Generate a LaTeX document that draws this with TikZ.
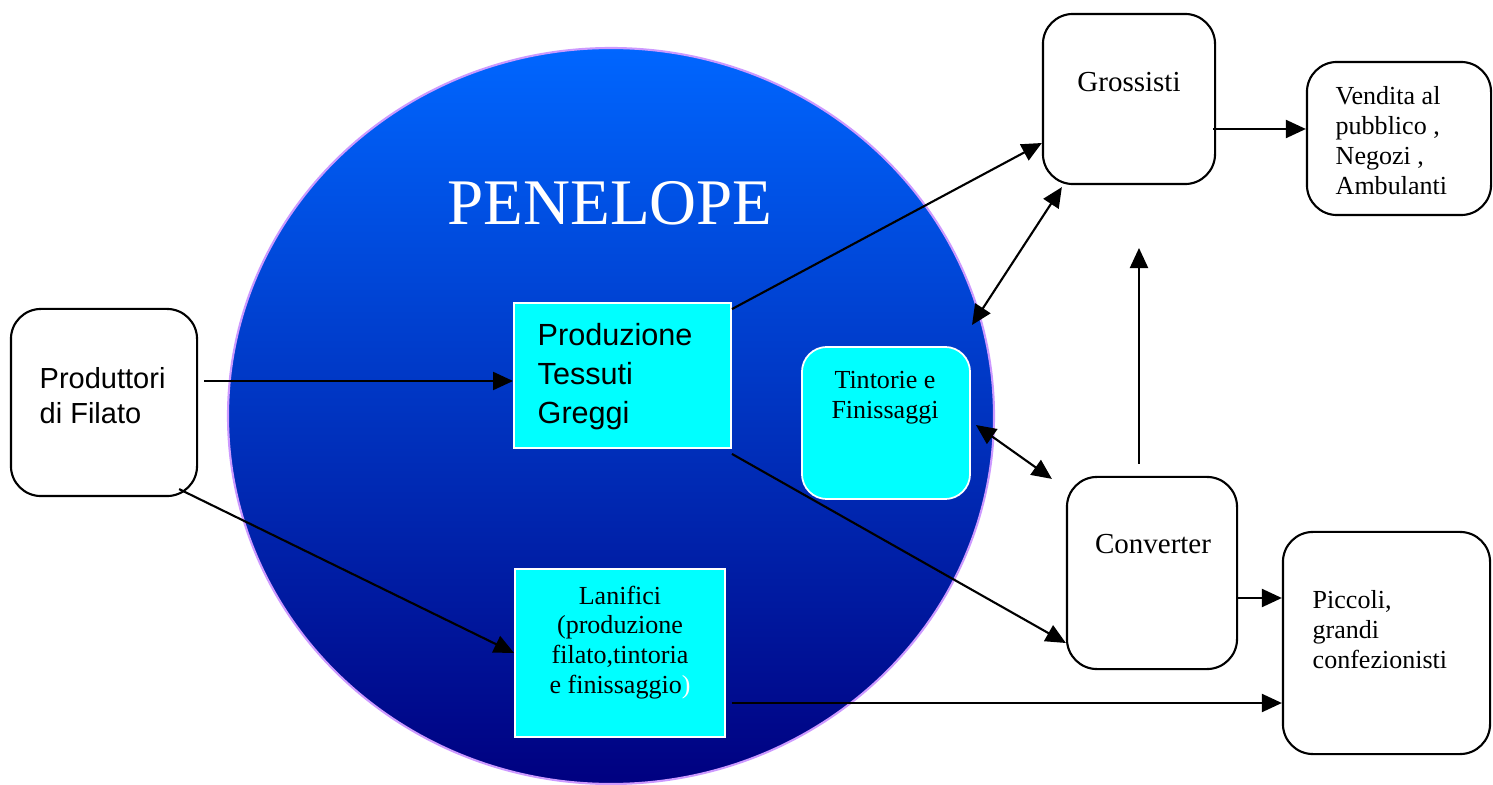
\documentclass[tikz,border=0pt]{standalone}
\usepackage{fontspec}
\setmainfont{Liberation Serif}
\setsansfont{Liberation Sans}
\usetikzlibrary{arrows.meta,calc,math}
\definecolor{pentop}{RGB}{0,102,255}
\definecolor{penbot}{RGB}{0,0,128}
\definecolor{penrim}{RGB}{204,153,255}
\definecolor{boxcyan}{RGB}{0,255,255}
\tikzset{rbox/.style={draw,line width=0.6pt,rounded corners=0.3cm,fill=white}}
\tikzset{cbox/.style={draw=white,line width=0.5pt,fill=boxcyan}}
\tikzset{rcbox/.style={cbox,rounded corners=0.25cm}}
\tikzset{conn/.style={-{Triangle[length=0.2cm,width=0.18cm]},line width=0.6pt}}
\tikzset{dconn/.style={conn,{Triangle[length=0.2cm,width=0.18cm]}-{Triangle[length=0.2cm,width=0.18cm]}}}
\tikzset{sanstxt/.style={font=\sffamily\fontsize{8.25}{10}\selectfont,inner sep=0pt,align=left}}
\tikzset{sertxt/.style={font=\fontsize{7.4}{8.5}\selectfont,inner sep=0pt}}
\begin{document}
\begin{tikzpicture}[x=0.01cm,y=-0.01cm]
    \tikzmath{\cx=611;\cy=416;\rx=383;\ry=368;}
    \useasboundingbox (0,0) rectangle (1493,785);
    \shade [top color=pentop,bottom color=penbot] (\cx,\cy) ellipse [x radius=\rx,y radius=\ry];
    \draw [penrim,line width=0.6pt] (\cx,\cy) ellipse [x radius=\rx,y radius=\ry];
    \node [font=\fontsize{18.5}{22}\selectfont,text=white,anchor=base,inner sep=0pt] (pen) at (610,225) {PENELOPE};
    \node [rbox,minimum width=1.86cm,minimum height=1.87cm] (prod) at (104,402.5) {};
    \node [cbox,minimum width=2.17cm,minimum height=1.45cm] (tess) at (622.5,375.5) {};
    \node [rcbox,minimum width=1.68cm,minimum height=1.52cm] (tint) at (886,423) {};
    \node [cbox,minimum width=2.10cm,minimum height=1.68cm] (lan) at (620,653) {};
    \node [rbox,minimum width=1.72cm,minimum height=1.70cm] (gross) at (1129,99) {};
    \node [rbox,minimum width=1.84cm,minimum height=1.53cm] (vend) at (1399,138.5) {};
    \node [rbox,minimum width=1.70cm,minimum height=1.92cm] (conv) at (1152,573) {};
    \node [rbox,minimum width=2.07cm,minimum height=2.22cm] (picc) at (1386.5,643) {};
    \node [sanstxt,anchor=north west] (prodtxt) at (39,367) {Produttori\\di Filato};
    \node [sanstxt,font=\sffamily\fontsize{8.7}{11.1}\selectfont,anchor=north west] (tesstxt) at (537,323) {Produzione\\Tessuti\\Greggi};
    \node [sertxt,align=center,anchor=north] (tinttxt) at (885,371) {Tintorie e\\Finissaggi};
    \node [sertxt,align=center,anchor=north] (lantxt) at (620,585) {Lanifici\\(produzione\\filato,tintoria\\e finissaggio{\color{white})}};
    \node [sertxt,font=\fontsize{8.25}{10}\selectfont,anchor=north] (grosstxt) at (1129,72) {Grossisti};
    \node [sertxt,align=left,anchor=north west] (vendtxt) at (1335,86) {Vendita al\\pubblico ,\\Negozi ,\\Ambulanti};
    \node [sertxt,font=\fontsize{8.25}{10}\selectfont,anchor=north] (convtxt) at (1153,534) {Converter};
    \node [sertxt,align=left,anchor=north west] (picctxt) at (1312,590) {Piccoli,\\grandi\\confezionisti};
    \coordinate (rim) at (972,325);
    \coordinate (up) at (1139,248);
    \draw [conn] ($(prod.east)+(6,-21.5)$) -- ($(tess.west)+(0,5.5)$);
    \draw [conn] ($(prod.south east)+(-19,-8)$) -- (lan.west);
    \draw [conn] ($(tess.north east)+(0,7)$) -- ($(gross.west)+(0,44)$);
    \draw [dconn] (rim) -- ($(gross.south west)+(20,2)$);
    \draw [conn] ($(gross.east)+(-3,30)$) -- ($(vend.west)+(0,-9.5)$);
    \draw [conn] ($(conv.north)+(-13,-12)$) -- (up);
    \draw [dconn] ($(tint.east)+(5,2)$) -- ($(conv.north west)+(-14,3)$);
    \draw [conn] ($(tess.south east)+(0,5)$) -- ($(conv.west)+(0,70)$);
    \draw [conn] ($(conv.east)+(-2,25)$) -- ($(picc.west)+(0,-45)$);
    \draw [conn] ($(lan.east)+(6,50)$) -- ($(picc.west)+(0,60)$);
\end{tikzpicture}
\end{document}
